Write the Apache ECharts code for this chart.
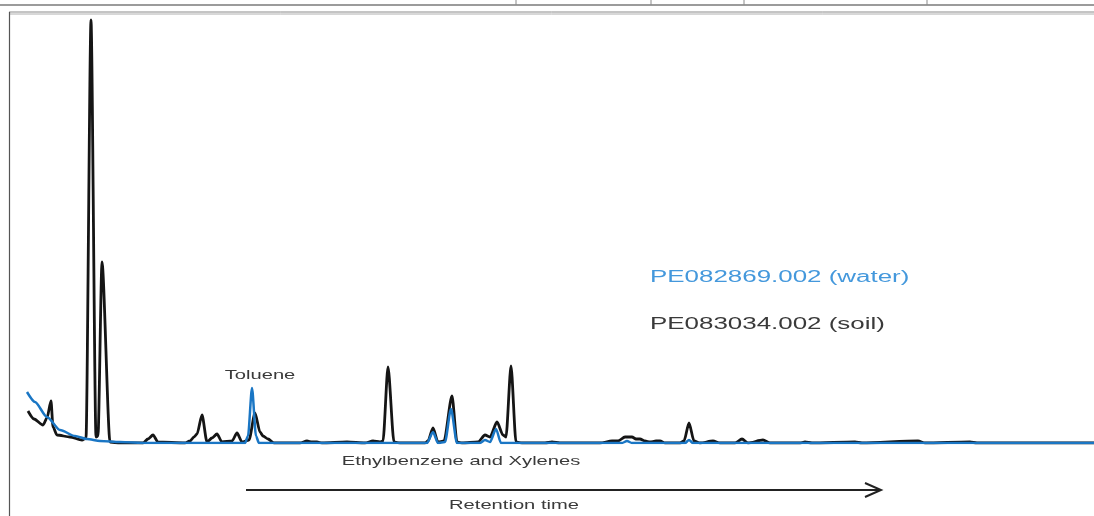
<!DOCTYPE html>
<html>
<head>
<meta charset="utf-8">
<script src="https://cdn.jsdelivr.net/npm/echarts@6/dist/echarts.min.js"></script>
<style>
  html, body { margin: 0; padding: 0; background: #fff; }
  #chart_gc { width: 1094px; height: 516px; }
</style>
</head>
<body>
<div id="chart_gc"></div>
<script>
// retention position, detector signal
const soilTrace = [
  [28, 32], [34, 24], [43, 18], [47, 25], [51, 42], [53, 16], [57, 8], [70, 6], [82, 3],
  [86, 5], [91, 423], [96, 6], [98, 7], [102, 181], [110, 1], [120, 0],
  [143, 0], [148, 4], [153, 8], [158, 1], [185, 0],
  [190, 2], [194, 6], [197, 9], [202, 28], [207, 1], [212, 5], [217, 9], [222, 1],
  [232, 2], [237, 10], [242, 1], [249, 3], [255, 30], [260, 11], [263, 7], [268, 4], [274, 0],
  [300, 0], [307, 2], [312, 1], [317, 1], [322, 0], [347, 1], [365, 0], [373, 2], [380, 1],
  [383, 2], [388, 76], [394, 1], [400, 0], [425, 0], [428, 2], [433, 15], [438, 1],
  [444, 2], [452, 47], [457, 1], [462, 0], [478, 1], [485, 8], [490, 6], [497, 21],
  [503, 8], [506, 6], [511, 77], [516, 1], [522, 0], [545, 0], [552, 1], [560, 0],
  [600, 0], [612, 2], [618, 2], [625, 6], [632, 6], [636, 4], [640, 4], [645, 2],
  [650, 1], [656, 2], [660, 2], [665, 0], [680, 0], [684, 2], [689, 20], [694, 2],
  [700, 0], [713, 2], [720, 0], [735, 0], [742, 4], [748, 0], [763, 3], [770, 0],
  [800, 0], [805, 1], [812, 0], [855, 1], [862, 0], [918, 2], [925, 0], [970, 1],
  [977, 0], [1094, 0]
];
const waterTrace = [
  [27, 51], [35, 41], [47, 26], [60, 13], [75, 7], [87, 4], [100, 2], [120, 1], [147, 0],
  [245, 0], [248, 7], [252, 55], [256, 7], [259, 0],
  [427, 0], [433, 11], [438, 0], [445, 1], [451, 34], [457, 0],
  [480, 0], [485, 3], [490, 1], [496, 14], [501, 0],
  [622, 0], [627, 2], [632, 0], [685, 0], [689, 3], [693, 0], [1094, 0]
];
const seriesNames = ["PE083034.002 (soil)", "PE082869.002 (water)"];
const peakLabels = ["Toluene", "Ethylbenzene and Xylenes"];
const axisLabel = "Retention time";

const chart = echarts.init(document.getElementById("chart_gc"));
const sx = 1.55; // the source picture is stretched sideways

const option = {
  backgroundColor: "#ffffff",
  animation: false,
  grid: { left: 0, right: 0, top: 0, bottom: 73 },
  xAxis: { type: "value", min: 0, max: 1094, show: false },
  yAxis: { type: "value", min: 0, max: 443, show: false },
  series: [
    {
      name: seriesNames[0],
      type: "line",
      data: soilTrace,
      showSymbol: false,
      smooth: 0.25,
      smoothMonotone: "x",
      lineStyle: { color: "#151515", width: 2.8 },
      z: 2
    },
    {
      name: seriesNames[1],
      type: "line",
      data: waterTrace,
      showSymbol: false,
      smooth: 0.25,
      smoothMonotone: "x",
      lineStyle: { color: "#1a76c4", width: 2.5 },
      z: 3
    }
  ],
  graphic: [
    // table frame
    { type: "line", shape: { x1: 0, y1: 5, x2: 1094, y2: 5 }, style: { stroke: "#7a7a7a", lineWidth: 1.5 } },
    { type: "line", shape: { x1: 516, y1: 0, x2: 516, y2: 5 }, style: { stroke: "#8a8a8a", lineWidth: 1 } },
    { type: "line", shape: { x1: 651, y1: 0, x2: 651, y2: 5 }, style: { stroke: "#8a8a8a", lineWidth: 1 } },
    { type: "line", shape: { x1: 744, y1: 0, x2: 744, y2: 5 }, style: { stroke: "#8a8a8a", lineWidth: 1 } },
    { type: "line", shape: { x1: 927, y1: 0, x2: 927, y2: 5 }, style: { stroke: "#8a8a8a", lineWidth: 1 } },
    { type: "line", shape: { x1: 9, y1: 12, x2: 1094, y2: 12 }, style: { stroke: "#8a8a8a", lineWidth: 1 } },
    { type: "line", shape: { x1: 9, y1: 14, x2: 1094, y2: 14 }, style: { stroke: "#b0b0b0", lineWidth: 1 } },
    { type: "line", shape: { x1: 9.5, y1: 12, x2: 9.5, y2: 516 }, style: { stroke: "#555", lineWidth: 1.2 } },
    // labels
    {
      type: "text", x: 260, y: 375, scaleX: sx,
      style: { text: peakLabels[0], fill: "#3a3a3a", font: "13px 'Liberation Sans', Arial, sans-serif", textAlign: "center", textVerticalAlign: "middle" }
    },
    {
      type: "text", x: 461, y: 461, scaleX: sx,
      style: { text: peakLabels[1], fill: "#3a3a3a", font: "13px 'Liberation Sans', Arial, sans-serif", textAlign: "center", textVerticalAlign: "middle" }
    },
    {
      type: "text", x: 650, y: 278, scaleX: 1.62,
      style: { text: seriesNames[1], fill: "#4498dc", font: "16px 'Liberation Sans', Arial, sans-serif", textAlign: "left", textVerticalAlign: "middle" }
    },
    {
      type: "text", x: 650, y: 325, scaleX: 1.62,
      style: { text: seriesNames[0], fill: "#3a3a3a", font: "16px 'Liberation Sans', Arial, sans-serif", textAlign: "left", textVerticalAlign: "middle" }
    },
    {
      type: "text", x: 514, y: 505, scaleX: sx,
      style: { text: axisLabel, fill: "#3a3a3a", font: "13px 'Liberation Sans', Arial, sans-serif", textAlign: "center", textVerticalAlign: "middle" }
    },
    // retention time arrow
    { type: "line", shape: { x1: 246, y1: 490, x2: 880, y2: 490 }, style: { stroke: "#222", lineWidth: 2 } },
    { type: "polyline", shape: { points: [[865, 483], [881, 490], [865, 497]] }, style: { stroke: "#222", lineWidth: 2, fill: null } }
  ]
};
chart.setOption(option);
</script>
</body>
</html>
